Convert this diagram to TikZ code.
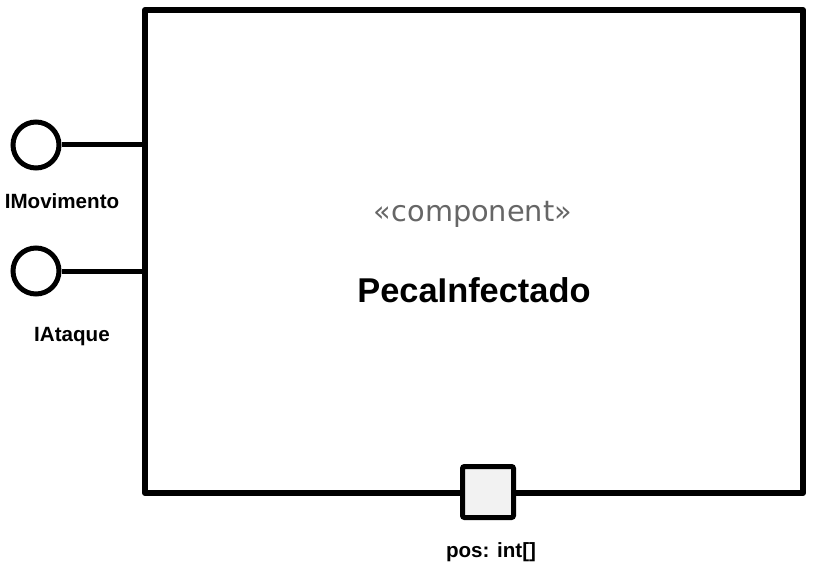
\documentclass[tikz,border=0pt]{standalone}
\usepackage{fontspec}
\setmainfont{Liberation Sans}
\newfontfamily\stereofont{DejaVu Sans}
\begin{document}
\begin{tikzpicture}[x=1pt,y=-1pt]
\tikzset{
  compbox/.style={draw=black,line width=6pt,line join=round},
  iface/.style={draw=black,line width=5pt,fill=white,circle,minimum size=46pt,inner sep=0pt},
  portbox/.style={draw=black,line width=5pt,fill=black!5,rounded corners=2pt,minimum size=51pt,inner sep=0pt},
  conn/.style={draw=black,line width=5pt},
  lbl/.style={font=\fontsize{20.6}{24}\selectfont\bfseries,inner sep=0pt},
}
\useasboundingbox (0,0) rectangle (821,569);
\coordinate (tl) at (145,10);
\coordinate (br) at (803,493);
\draw[compbox] (tl) rectangle (br);
\node[iface] (imov) at (36,145) {};
\node[iface] (iatq) at (36,271) {};
\coordinate (imovend) at (145,145);
\coordinate (iatqend) at (145,271);
\draw[conn] (imov.east) -- (imovend);
\draw[conn] (iatq.east) -- (iatqend);
\node[portbox] (port) at (488,492) {};
\node[lbl] (lmov) at (62,201) {IMovimento};
\node[lbl] (latq) at (72,337) {IAtaque};
\node[lbl] (lport) at (491,552) {pos: int[]};
\node[inner sep=0pt,text=black!60,font=\stereofont\fontsize{28.8}{34}\selectfont] (stereo) at (473,214) {«component»};
\node[inner sep=0pt,font=\fontsize{34.4}{40}\selectfont\bfseries] (name) at (474,290) {PecaInfectado};
\end{tikzpicture}
\end{document}
